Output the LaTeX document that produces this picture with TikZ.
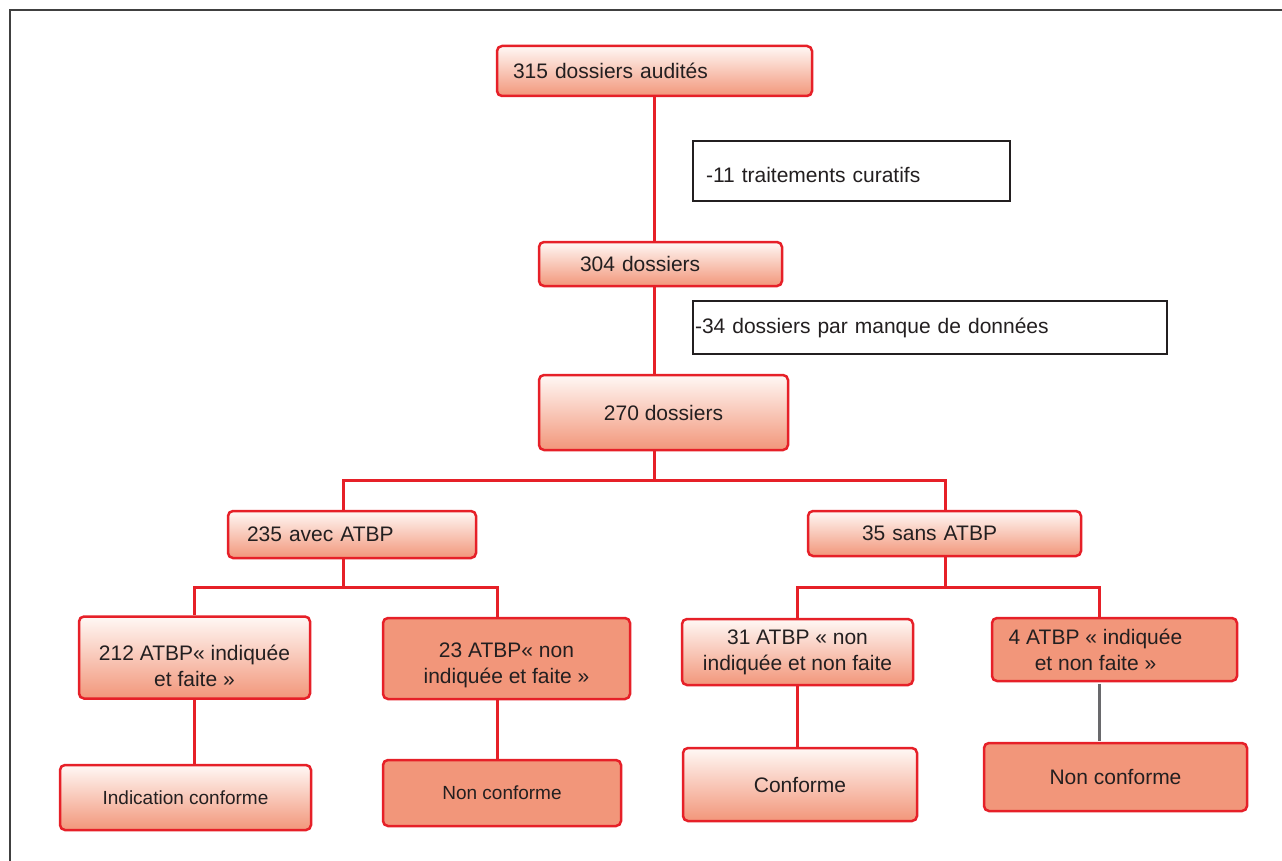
\documentclass[tikz,border=0pt]{standalone}
\usepackage{fontspec}
\setmainfont{Liberation Sans}
\definecolor{boxred}{RGB}{230,32,40}
\definecolor{salmon}{RGB}{242,150,122}
\definecolor{pale}{RGB}{255,248,245}
\definecolor{ink}{RGB}{35,31,32}
\definecolor{framegrey}{RGB}{64,64,64}
\definecolor{linkgrey}{RGB}{105,105,108}
\begin{document}
\begin{tikzpicture}[x=1pt,y=-1pt,
    every node/.style={font=\fontsize{21}{26}\selectfont, text=ink, inner sep=0pt},
    gradbox/.style={draw=boxred, line width=2.5pt, rounded corners=5pt, top color=pale, bottom color=salmon},
    flatbox/.style={draw=boxred, line width=2.5pt, rounded corners=5pt, fill=salmon},
    notebox/.style={draw=ink, line width=2pt, fill=white},
    padleft/.style={inner xsep=#1, align=left},
    smalltext/.style={font=\fontsize{19}{24}\selectfont},
    link/.style={boxred, line width=3pt},
    greylink/.style={linkgrey, line width=3pt, shorten <=1.25pt, shorten >=1.25pt}]
    \useasboundingbox (0,0) rectangle (1282,861);
    \draw[framegrey, line width=2.5pt] (10,861) |- (1282,10);

    \node[gradbox, padleft=16pt, text width=283pt, minimum height=50pt] (aud) at (654.5,71) {315 dossiers audités};
    \node[notebox, padleft=13pt, text width=291pt, minimum height=60pt, text height=23pt, text depth=0pt] (cur) at (851.5,171) {-11 traitements curatifs};
    \node[gradbox, padleft=41pt, text width=161pt, minimum height=44pt] (d304) at (660.5,264) {304 dossiers};
    \node[notebox, padleft=2pt, text width=470pt, minimum height=53pt] (manq) at (930,327.5) {-34 dossiers par manque de données};
    \node[gradbox, minimum width=249pt, minimum height=75pt] (d270) at (663.5,412.5) {270 dossiers};
    \node[gradbox, padleft=19pt, text width=210pt, minimum height=47pt] (avec) at (352,534.5) {235 avec ATBP};
    \node[gradbox, padleft=54pt, text width=165pt, minimum height=45pt] (sans) at (944.5,533.5) {35 sans ATBP};

    \node[gradbox, align=center, minimum width=231pt, minimum height=82pt, text height=57pt, text depth=0pt] (ind) at (194.5,657.5) {212 ATBP« indiquée\\et faite »};
    \node[flatbox, align=center, minimum width=247pt, minimum height=81pt, text height=55pt] (nind) at (506.5,658.5) {23 ATBP« non\\indiquée et faite »};
    \node[gradbox, align=center, minimum width=231pt, minimum height=66pt] (nnf) at (797.5,652) {31 ATBP « non\\indiquée et non faite};
    \node[flatbox, align=center, minimum width=245pt, minimum height=63pt] (inf) at (1114.5,649.5) {4 ATBP « indiquée\hspace*{38pt}\\et non faite »\hspace*{38pt}};

    \node[gradbox, smalltext, minimum width=251pt, minimum height=65pt] (indc) at (185.5,797.5) {Indication conforme};
    \node[flatbox, smalltext, minimum width=238pt, minimum height=66pt] (nc1) at (502,793) {Non conforme};
    \node[gradbox, minimum width=234pt, minimum height=73pt] (conf) at (800,784.5) {Conforme};
    \node[flatbox, minimum width=263pt, minimum height=68pt] (nc2) at (1115.5,777) {Non conforme};

    \coordinate (s1) at (654,480);
    \coordinate (s2) at (343,587);
    \coordinate (s3) at (945,587);

    \draw[link] (aud.south -| s1) -- (d304.north -| s1);
    \draw[link] (d304.south -| s1) -- (d270.north -| s1);
    \draw[link] (d270.south -| s1) -- (s1);
    \draw[link] (avec.north -| s2) |- (s1) -| (sans.north -| s3);
    \draw[link] (avec.south -| s2) -- (s2);
    \draw[link] (ind.north) |- (s2) -| ([xshift=-9.5pt]nind.north);
    \draw[link] (sans.south -| s3) -- (s3);
    \draw[link] (nnf.north) |- (s3) -| ([xshift=-15pt]inf.north);
    \draw[link] (ind.south) -- (ind.south |- indc.north);
    \draw[link] ([xshift=-9.5pt]nind.south) -- ([xshift=-9.5pt]nind.south |- nc1.north);
    \draw[link] (nnf.south) -- (nnf.south |- conf.north);
    \draw[greylink] ([xshift=-15pt]inf.south) -- ([xshift=-15pt]inf.south |- nc2.north);
\end{tikzpicture}
\end{document}
